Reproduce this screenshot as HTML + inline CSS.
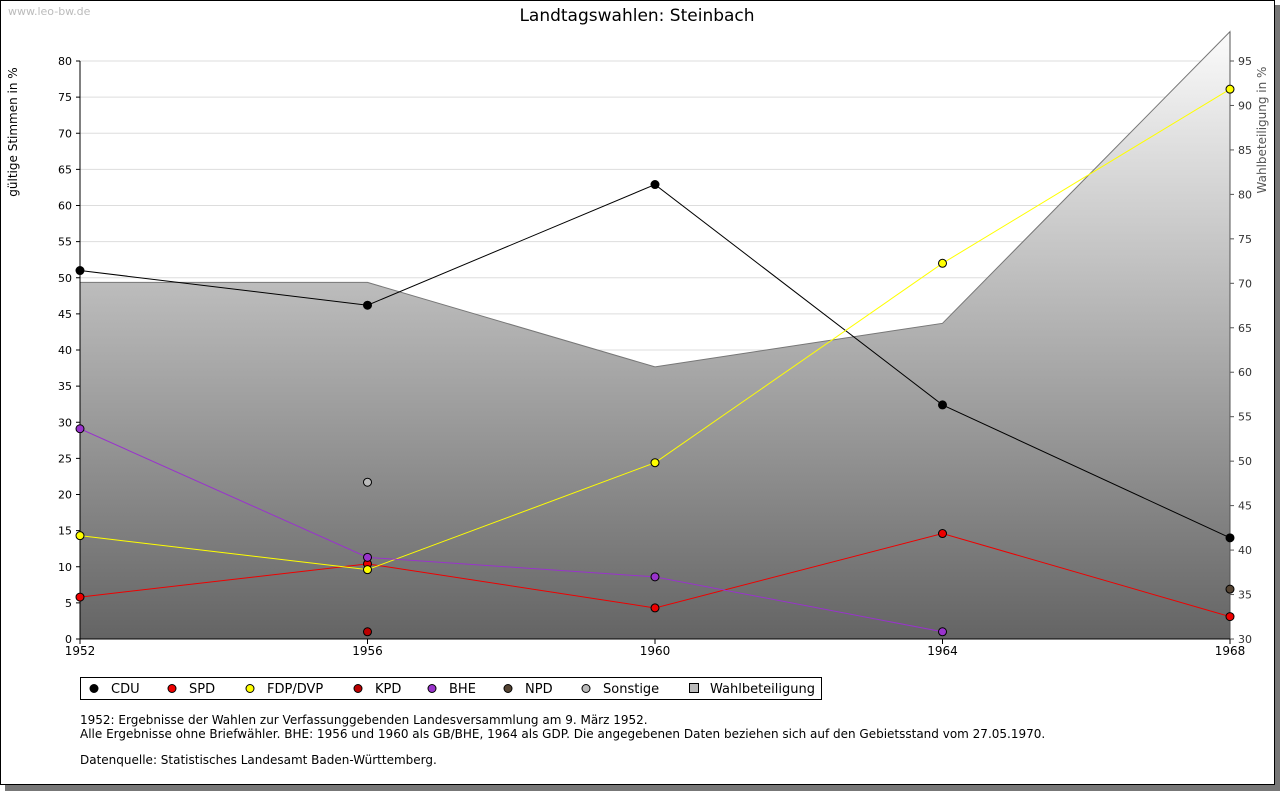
<!DOCTYPE html>
<html><head><meta charset="utf-8"><style>
body{margin:0;background:#fff;font-family:"DejaVu Sans",sans-serif;}
svg text{font-family:"DejaVu Sans","Liberation Sans",sans-serif;}
</style></head><body>
<svg width="1280" height="791" viewBox="0 0 1280 791" xmlns="http://www.w3.org/2000/svg">
<defs><linearGradient id="wg" gradientUnits="userSpaceOnUse" x1="0" y1="32" x2="0" y2="639"><stop offset="0" stop-color="#fbfbfb"/><stop offset="1" stop-color="#646464"/></linearGradient></defs>
<rect x="5" y="5" width="1275" height="786" fill="#777"/>
<rect x="0.5" y="0.5" width="1274" height="784" fill="#fff" stroke="#000"/>
<text x="8" y="15" font-size="11" fill="#bbb">www.leo-bw.de</text>
<text x="637" y="21" font-size="17" text-anchor="middle">Landtagswahlen: Steinbach</text>
<g id="grid"></g><g id="area"></g><g id="axes"></g><g id="series"></g>
<text transform="translate(17,132) rotate(-90)" font-size="12" text-anchor="middle">gültige Stimmen in %</text>
<text transform="translate(1266,130) rotate(-90)" font-size="12" fill="#555" text-anchor="middle">Wahlbeteiligung in %</text>
<g id="legend"></g>
<text x="80" y="724" font-size="12">1952: Ergebnisse der Wahlen zur Verfassunggebenden Landesversammlung am 9. März 1952.</text>
<text x="80" y="738" font-size="12">Alle Ergebnisse ohne Briefwähler. BHE: 1956 und 1960 als GB/BHE, 1964 als GDP. Die angegebenen Daten beziehen sich auf den Gebietsstand vom 27.05.1970.</text>
<text x="80" y="764" font-size="12">Datenquelle: Statistisches Landesamt Baden-Württemberg.</text>
</svg>
<script>
const years=[1952,1956,1960,1964,1968];
const cdu=[51.0,46.2,62.9,32.4,14.0];
const spd=[5.8,10.4,4.3,14.6,3.1];
const fdp=[14.3,9.6,24.4,52.0,76.1];
const kpd=[null,1.0,null,null,null];
const bhe=[29.1,11.3,8.6,1.0,null];
const npd=[null,null,null,null,6.9];
const sonst=[null,21.7,null,null,null];
const turnout=[70.1,70.1,60.6,65.5,98.3];
const leftTicks=[0,5,10,15,20,25,30,35,40,45,50,55,60,65,70,75,80];
const rightTicks=[30,35,40,45,50,55,60,65,70,75,80,85,90,95];
const NS="http://www.w3.org/2000/svg";
const X=y=>80+(y-1952)/16*1150;
const Y=v=>639-v/80*578;
const Y2=v=>639-(v-30)/65*578;
function mk(t,a,p){const e=document.createElementNS(NS,t);for(const k in a)e.setAttribute(k,a[k]);document.getElementById(p).appendChild(e);return e;}
leftTicks.forEach(v=>{
 const l=mk('line',{x1:80,x2:1230,y1:Y(v),y2:Y(v),stroke:'#ddd'},'grid');
 
 
 mk('line',{x1:76,x2:80,y1:Y(v),y2:Y(v),stroke:'#000'},'axes');
 const t=mk('text',{x:72,y:Y(v)+4,'font-size':11,'text-anchor':'end'},'axes');t.textContent=v;
 
 
});
rightTicks.forEach(v=>{
 mk('line',{x1:1230,x2:1234,y1:Y2(v),y2:Y2(v),stroke:'#555'},'axes');
 const t=mk('text',{x:1238,y:Y2(v)+4,'font-size':11,fill:'#333'},'axes');t.textContent=v;
 
 
});
let d='M'+X(years[0])+','+Y(0);years.forEach((y,i)=>d+='L'+X(y)+','+Y2(turnout[i]));d+='L'+X(years[4])+','+Y(0)+'Z';
const ar=mk('path',{d:d,fill:'url(#wg)',stroke:'#777'},'area');


mk('line',{x1:80,x2:80,y1:61,y2:639,stroke:'#000'},'axes');
mk('line',{x1:1230,x2:1230,y1:32,y2:639,stroke:'#555'},'axes');
mk('line',{x1:80,x2:1230,y1:639,y2:639,stroke:'#000'},'axes');
years.forEach(y=>{mk('line',{x1:X(y),x2:X(y),y1:639,y2:644,stroke:'#000'},'axes');
 const t=mk('text',{x:X(y),y:655,'font-size':12,'text-anchor':'middle'},'axes');t.textContent=y;
 
 });
const series=[['cdu',cdu,'#000'],['spd',spd,'#e00'],['fdp',fdp,'#ff0'],['kpd',kpd,'#b00'],['bhe',bhe,'#93c'],['npd',npd,'#543'],['sonstige',sonst,'#bbb']];
series.forEach(([n,arr,c])=>{
 const pts=[];arr.forEach((v,i)=>{if(v!=null)pts.push([X(years[i]),Y(v)]);});
 if(pts.length>1){const pl=mk('polyline',{points:pts.map(p=>p.join(',')).join(' '),fill:'none',stroke:c,'stroke-width':1},'series');
  
  }
 pts.forEach(p=>{const ci=mk('circle',{cx:p[0],cy:p[1],r:4,fill:c,stroke:'#000'},'series');
  
  });
});
const lb=mk('rect',{x:80.5,y:677.5,width:741,height:22,fill:'#fff',stroke:'#000'},'legend');


const leg=[['CDU','#000',94],['SPD','#e00',172],['FDP/DVP','#ff0',250],['KPD','#b00',358],['BHE','#93c',432],['NPD','#543',508],['Sonstige','#bbb',586]];
leg.forEach(([n,c,x])=>{const ci=mk('circle',{cx:x,cy:688.5,r:4,fill:c,stroke:'#000'},'legend');
 
 
 const t=mk('text',{x:x+17,y:693,'font-size':13},'legend');t.textContent=n;
 
 });
const sq=mk('rect',{x:689.5,y:683.5,width:9,height:9,fill:'#bbb',stroke:'#000'},'legend');


const tw=mk('text',{x:710,y:693,'font-size':13},'legend');tw.textContent='Wahlbeteiligung';


</script>
</body></html>
